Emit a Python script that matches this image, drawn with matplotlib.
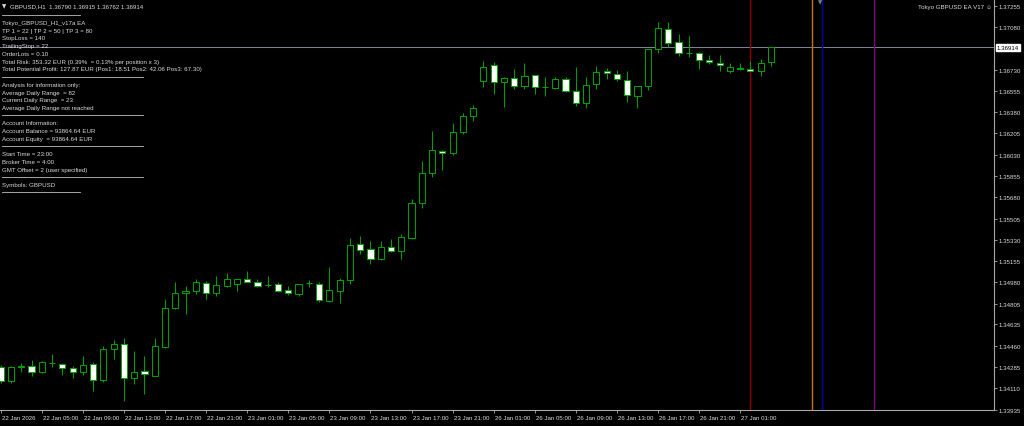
import matplotlib
matplotlib.use("Agg")
import matplotlib.pyplot as plt
from matplotlib.lines import Line2D
import matplotlib.transforms as mtransforms

# ---------------- data (GBPUSD H1, bar 0 = 22 Jan 2026 01:00) ----------------
opens = [1.34283, 1.34170, 1.34285, 1.34296, 1.34241, 1.34316, 1.34312, 1.34277, 1.34246, 1.34307,
         1.34180, 1.34435, 1.34472, 1.34197, 1.34252, 1.34213, 1.34452, 1.34768, 1.34891, 1.34908,
         1.34978, 1.34891, 1.34949, 1.34965, 1.35012, 1.34984, 1.34963, 1.34967, 1.34918, 1.34885,
         1.34973, 1.34967, 1.34825, 1.34908, 1.35003, 1.35296, 1.35253, 1.35170, 1.35274, 1.35241,
         1.35346, 1.35631, 1.35877, 1.36063, 1.36042, 1.36219, 1.36351, 1.36639, 1.36768, 1.36626,
         1.36661, 1.36593, 1.36684, 1.36585, 1.36579, 1.36653, 1.36557, 1.36454, 1.36615, 1.36717,
         1.36694, 1.36642, 1.36516, 1.36598, 1.36900, 1.37062, 1.36955, 1.36867, 1.36869, 1.36807,
         1.36782, 1.36716, 1.36746, 1.36733, 1.36716, 1.36790]
highs = [1.34301, 1.34296, 1.34315, 1.34345, 1.34334, 1.34392, 1.34318, 1.34296, 1.34373, 1.34323,
         1.34460, 1.34505, 1.34526, 1.34419, 1.34378, 1.34521, 1.34844, 1.34986, 1.34954, 1.35009,
         1.34990, 1.35036, 1.35056, 1.35009, 1.35077, 1.35009, 1.35036, 1.34982, 1.34949, 1.34967,
         1.35001, 1.34982, 1.35110, 1.35015, 1.35343, 1.35364, 1.35318, 1.35318, 1.35337, 1.35378,
         1.35666, 1.35976, 1.36223, 1.36069, 1.36288, 1.36371, 1.36440, 1.36804, 1.36791, 1.36667,
         1.36735, 1.36782, 1.36686, 1.36667, 1.36672, 1.36667, 1.36755, 1.36672, 1.36763, 1.36744,
         1.36727, 1.36717, 1.36598, 1.36901, 1.37119, 1.37119, 1.37023, 1.37004, 1.36878, 1.36850,
         1.36850, 1.36782, 1.36785, 1.36804, 1.36818, 1.36915]
lows = [1.34153, 1.34153, 1.34241, 1.34213, 1.34235, 1.34287, 1.34219, 1.34194, 1.34219, 1.34088,
        1.34159, 1.34351, 1.34007, 1.34145, 1.34063, 1.34211, 1.34439, 1.34763, 1.34721, 1.34885,
        1.34844, 1.34871, 1.34941, 1.34910, 1.34980, 1.34941, 1.34941, 1.34899, 1.34877, 1.34868,
        1.34945, 1.34822, 1.34823, 1.34811, 1.34967, 1.35214, 1.35132, 1.35165, 1.35228, 1.35174,
        1.35337, 1.35592, 1.35844, 1.35904, 1.36030, 1.36201, 1.36310, 1.36585, 1.36530, 1.36426,
        1.36568, 1.36573, 1.36530, 1.36516, 1.36568, 1.36544, 1.36434, 1.36415, 1.36571, 1.36653,
        1.36639, 1.36467, 1.36412, 1.36563, 1.36864, 1.36914, 1.36845, 1.36832, 1.36735, 1.36776,
        1.36716, 1.36700, 1.36727, 1.36716, 1.36680, 1.36762]
closes = [1.34167, 1.34285, 1.34289, 1.34241, 1.34326, 1.34318, 1.34274, 1.34241, 1.34301, 1.34176,
          1.34433, 1.34472, 1.34197, 1.34244, 1.34225, 1.34460, 1.34768, 1.34891, 1.34910, 1.34982,
          1.34893, 1.34957, 1.35009, 1.35006, 1.34982, 1.34954, 1.34961, 1.34912, 1.34893, 1.34965,
          1.34974, 1.34833, 1.34918, 1.35001, 1.35288, 1.35249, 1.35173, 1.35274, 1.35241, 1.35351,
          1.35631, 1.35877, 1.36071, 1.36042, 1.36219, 1.36351, 1.36412, 1.36750, 1.36626, 1.36659,
          1.36595, 1.36680, 1.36585, 1.36586, 1.36653, 1.36552, 1.36454, 1.36607, 1.36714, 1.36700,
          1.36651, 1.36524, 1.36593, 1.36900, 1.37070, 1.36952, 1.36864, 1.36865, 1.36809, 1.36790,
          1.36768, 1.36749, 1.36733, 1.36719, 1.36782, 1.36914]

xtick_bars = [0, 4, 8, 12, 16, 20, 24, 28, 32, 36, 40, 44, 48, 52, 56, 60, 64, 68, 72]
xtick_labels = ["22 Jan 2026", "22 Jan 05:00", "22 Jan 09:00", "22 Jan 13:00", "22 Jan 17:00",
                "22 Jan 21:00", "23 Jan 01:00", "23 Jan 05:00", "23 Jan 09:00", "23 Jan 13:00",
                "23 Jan 17:00", "23 Jan 21:00", "26 Jan 01:00", "26 Jan 05:00", "26 Jan 09:00",
                "26 Jan 13:00", "26 Jan 17:00", "26 Jan 21:00", "27 Jan 01:00"]
ytick_values = [1.37255, 1.37080, 1.36730, 1.36555, 1.36380, 1.36205, 1.36030, 1.35855,
                1.35680, 1.35505, 1.35330, 1.35155, 1.34980, 1.34805, 1.34635, 1.34460,
                1.34285, 1.34110, 1.33935]
current_price = 1.36914
vline_bars = [73, 79, 80, 85]
vline_colors = ["#8c0000", "#c87400", "#0000b0", "#800080"]

title_text = "GBPUSD,H1  1.36790 1.36915 1.36762 1.36914"
ea_label = "Tokyo GBPUSD EA V17 \u263a"
info_rows = ["-short", "Tokyo_GBPUSD_H1_v17a EA", "TP 1 = 22 | TP 2 = 50 | TP 3 = 80",
             "StopLoss = 140", "TrailingStop = 22", "OrderLots = 0.10",
             "Total Risk: 353.32 EUR (0.39%  = 0.13% per position x 3)",
             "Total Potential Profit: 127.87 EUR (Pos1: 18.51 Pos2: 42.06 Pos3: 67.30)",
             "-long", "Analysis for information only:", "Average Daily Range  = 82",
             "Current Daily Range  = 23", "Average Daily Range not reached", "-long",
             "Account Information:", "Account Balance = 93864.64 EUR",
             "Account Equity  = 93864.64 EUR", "-long", "Start Time = 23:00",
             "Broker Time = 4:00", "GMT Offset = 2 (user specified)", "-long",
             "Symbols: GBPUSD", "-short"]

# ---------------- figure ----------------
W, H = 1024, 427
FONT = "Liberation Sans"
FS = 4.4
GREEN = "#00a000"
TXT = "#dcdcdc"
AXC = "#a8a8a8"

fig = plt.figure(figsize=(W / 100, H / 100), dpi=100, facecolor="black")
ax = fig.add_axes([0, 16 / H, 994 / W, 411 / H])
ax.set_facecolor("black")

n = len(opens)
idx = list(range(n))

# wicks
ax.vlines(idx, lows, highs, colors=GREEN, linewidth=0.75, zorder=2)
# bodies
bottoms = [min(o, c) for o, c in zip(opens, closes)]
heights = [abs(c - o) for o, c in zip(opens, closes)]
faces = ["black" if c > o else "white" for o, c in zip(opens, closes)]
ax.bar(idx, heights, bottom=bottoms, width=0.6, color=faces, edgecolor=GREEN,
       linewidth=0.75, zorder=3)

# current price line
ax.axhline(current_price, color="#7c8494", linewidth=0.75, zorder=1)
# vertical time lines
for b, c in zip(vline_bars, vline_colors):
    ax.axvline(b, color=c, linewidth=1.0, zorder=1)

ax.set_xlim(-0.07, 96.72)
ax.set_ylim(1.33931, 1.37311)

for s in ["left", "top"]:
    ax.spines[s].set_visible(False)
for s in ["right", "bottom"]:
    ax.spines[s].set_color(AXC)
    ax.spines[s].set_linewidth(0.8)

ax.yaxis.tick_right()
ax.set_yticks(ytick_values)
ax.set_yticklabels([f"{v:.5f}" for v in ytick_values], fontfamily=FONT, fontsize=FS, color=TXT)
ax.set_xticks(xtick_bars)
ax.set_xticklabels(xtick_labels, fontfamily=FONT, fontsize=FS, color=TXT, ha="left")
ax.tick_params(axis="y", direction="out", length=2.2, width=0.6, color=AXC, pad=1.2)
ax.tick_params(axis="x", direction="out", length=2.2, width=0.6, color=AXC, pad=1.2)
for lab in ax.get_xticklabels():
    lab.set_transform(lab.get_transform() + mtransforms.ScaledTranslation(1 / 100, 0, fig.dpi_scale_trans))

# current price label box
trans = mtransforms.blended_transform_factory(ax.transAxes, ax.transData)
ax.text(1.0025, current_price, f"{current_price:.5f}", transform=trans, fontfamily=FONT,
        fontsize=FS, color="black", va="center", ha="left", clip_on=False,
        bbox=dict(boxstyle="square,pad=0.15", facecolor="white", edgecolor="white"))

# title (top-left)
fig.text(2 / W, 1 - 6.7 / H, "\u25bc", fontfamily="DejaVu Sans", fontsize=4, color=TXT, va="center")
fig.text(10 / W, 1 - 6.7 / H, title_text, fontfamily=FONT, fontsize=FS, color=TXT, va="center")

# EA label (top-right)
fig.text(992 / W, 1 - 8 / H, ea_label, fontfamily=[FONT, "DejaVu Sans"], fontsize=FS,
         color=TXT, va="center", ha="right")

# chart shift marker
fig.text(820 / W, 1 - 3 / H, "\u25bc", fontfamily="DejaVu Sans", fontsize=4, color="#808080",
         va="center", ha="center")

# info panel
y0, step = 15.7, 7.73
for k, row in enumerate(info_rows):
    yp = y0 + step * k
    if row.startswith("-"):
        x1 = 80 if row == "-short" else 143
        fig.add_artist(Line2D([2 / W, x1 / W], [1 - yp / H, 1 - yp / H], color="#c0c0c0",
                              linewidth=0.6, transform=fig.transFigure))
    else:
        fig.text(2 / W, 1 - yp / H, row, fontfamily=FONT, fontsize=FS, color=TXT, va="center")

fig.savefig("out.png", dpi=100, facecolor="black")
